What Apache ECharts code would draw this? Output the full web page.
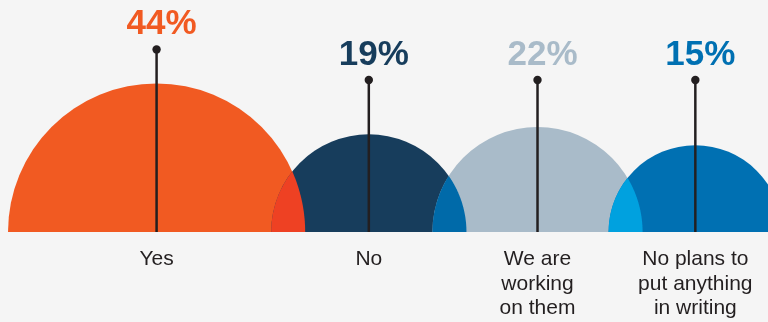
<!DOCTYPE html>
<html>
<head>
<meta charset="utf-8">
<script src="https://cdn.jsdelivr.net/npm/echarts@6/dist/echarts.min.js"></script>
<style>
  html, body { margin: 0; padding: 0; background: #f5f5f5; }
  #chart { width: 768px; height: 322px; }
</style>
</head>
<body>
<div id="chart"></div>
<script>
// Survey answers and their shares (percent)
const categories = ['Yes', 'No', 'We are\nworking\non them', 'No plans to\nput anything\nin writing'];
const shares = [44, 19, 22, 15];
const valueLabels = ['44%', '19%', '22%', '15%'];

// Styling
const palette = ['#f15a22', '#173d5c', '#a9bbc9', '#0070b2'];
const overlapPalette = ['#ee4123', '#006aa9', '#00a1df'];
const ink = '#231f20';
const FONT = '"Liberation Sans", Arial, Helvetica, sans-serif';

// Layout, in axis units (the grid maps 1 unit to 1 pixel)
const RADIUS_K = 22.4;   // radius = K * sqrt(share): half-disc area follows the share
const LEFT_PAD = 8;      // gap before the first half-disc
const OVERLAP = 34;      // how far neighbouring half-discs overlap
const STEM_LEVEL = 152;  // default height of the pointer stems
const STEM_CLEAR = 34;   // minimum stem length above a half-disc
const X_MAX = 768, Y_MAX = 232;

const radii = shares.map(v => RADIUS_K * Math.sqrt(v));
const centers = [];
radii.forEach((r, i) => {
  centers.push(i === 0 ? LEFT_PAD + r : centers[i - 1] + radii[i - 1] + r - OVERLAP);
});

const rows = shares.map((v, i) => [centers[i], 0, v, i]);

function lensPoints(pa, ra, pb, rb, base) {
  // upper half of the intersection of two discs centred on the baseline
  const d = pb[0] - pa[0];
  const xi = (d * d + ra * ra - rb * rb) / (2 * d);
  const yi = Math.sqrt(Math.max(0, ra * ra - xi * xi));
  const tb = Math.atan2(yi, pa[0] + xi - pb[0]);
  const ta = Math.atan2(yi, xi);
  const pts = [];
  const N = 60;
  for (let k = 0; k <= N; k++) {
    const t = Math.PI + (tb - Math.PI) * k / N;
    pts.push([pb[0] + rb * Math.cos(t), base - rb * Math.sin(t)]);
  }
  for (let k = 0; k <= N; k++) {
    const t = ta - ta * k / N;
    pts.push([pa[0] + ra * Math.cos(t), base - ra * Math.sin(t)]);
  }
  return pts;
}

function renderItem(params, api) {
  const i = api.value(3);
  const share = api.value(2);
  const c = api.coord([api.value(0), 0]);
  const r = api.size([RADIUS_K * Math.sqrt(share), 0])[0];
  const base = c[1];
  const children = [];

  children.push({
    type: 'sector',
    shape: { cx: c[0], cy: base, r: r, r0: 0, startAngle: Math.PI, endAngle: 2 * Math.PI, clockwise: true },
    style: { fill: palette[i] }
  });

  if (i > 0) {
    const pPrev = api.coord([centers[i - 1], 0]);
    const rPrev = api.size([radii[i - 1], 0])[0];
    children.push({
      type: 'polygon',
      shape: { points: lensPoints(pPrev, rPrev, c, r, base) },
      style: { fill: overlapPalette[i - 1] }
    });
  }

  const stemH = Math.max(STEM_LEVEL, RADIUS_K * Math.sqrt(share) + STEM_CLEAR);
  const top = api.coord([api.value(0), stemH]);
  children.push({
    type: 'line',
    shape: { x1: c[0], y1: base, x2: c[0], y2: top[1] },
    style: { stroke: ink, lineWidth: 2.5 }
  });
  children.push({
    type: 'circle',
    shape: { cx: c[0], cy: top[1], r: 4.2 },
    style: { fill: ink }
  });
  children.push({
    type: 'text',
    x: c[0] + 5,
    y: top[1] - 25,
    style: {
      text: valueLabels[i],
      fill: palette[i],
      font: 'bold 35px ' + FONT,
      align: 'center',
      verticalAlign: 'middle'
    }
  });
  children.push({
    type: 'text',
    x: c[0],
    y: base + 15,
    style: {
      text: categories[i],
      fill: ink,
      font: '21px ' + FONT,
      lineHeight: 24.5,
      align: 'center',
      verticalAlign: 'top'
    }
  });

  return { type: 'group', children: children };
}

const chart = echarts.init(document.getElementById('chart'), null, { renderer: 'canvas' });
chart.setOption({
  backgroundColor: '#f5f5f5',
  animation: false,
  grid: { left: 0, right: 0, top: 0, bottom: 90 },
  xAxis: { type: 'value', min: 0, max: X_MAX, show: false },
  yAxis: { type: 'value', min: 0, max: Y_MAX, show: false },
  series: [{
    type: 'custom',
    renderItem: renderItem,
    clip: false,
    data: rows
  }]
});
</script>
</body>
</html>
